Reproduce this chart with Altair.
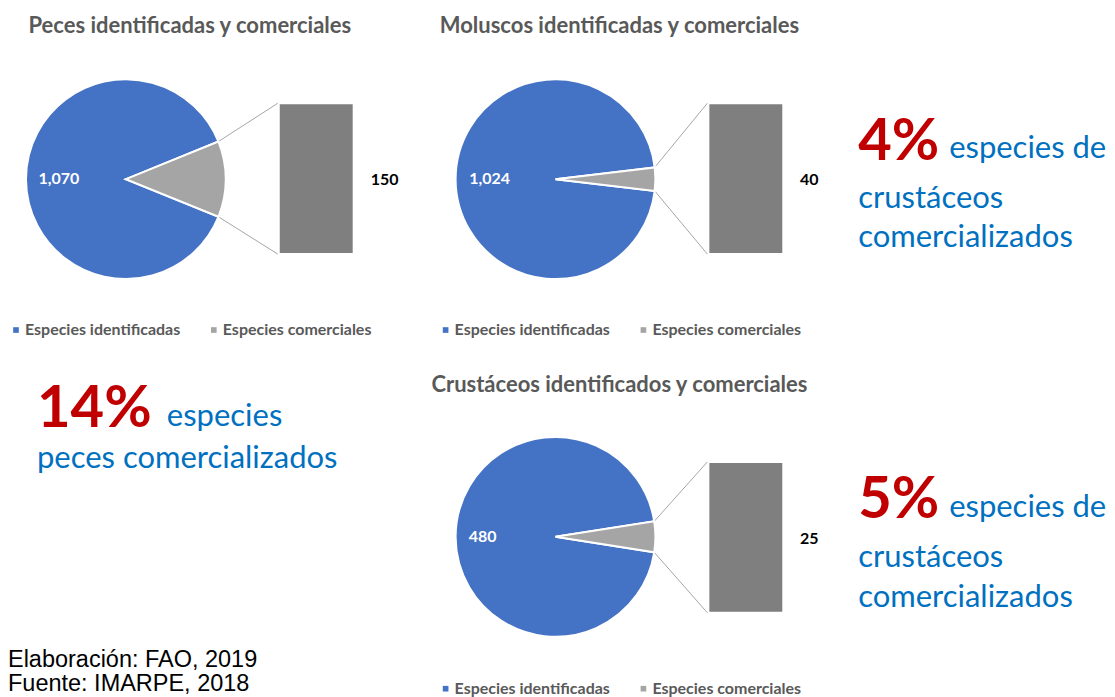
import math
import altair as alt
import pandas as pd

# ---------------- data ----------------
grupos = ["Peces", "Moluscos", "Crustáceos"]
titulos = [
    "Peces identificadas y comerciales",
    "Moluscos identificadas y comerciales",
    "Crustáceos identificados y comerciales",
]
identificadas = [1070, 1024, 480]
comerciales = [150, 40, 25]
categorias = ["Especies identificadas", "Especies comerciales"]
porcentajes = ["14%", "4%", "5%"]
frases = [
    ["especies", "peces comercializados"],
    ["especies de", "crustáceos", "comercializados"],
    ["especies de", "crustáceos", "comercializados"],
]
fuente = ["Elaboración: FAO, 2019", "Fuente: IMARPE, 2018"]

# ---------------- style ----------------
FONT = "Lato"
BLUE = "#4472C4"
GRAY = "#A5A5A5"
BARC = "#7F7F7F"
TXT = "#595959"
RED = "#C00000"
CALL = "#0070C0"

LAYOUT = [
    dict(W=412, H=352, cx=118, cy=171, r=100, lr=67, bx0=272, bx1=345, by0=96, by1=245,
         vx=377, vy=172, tx=182, ty=25, lgx=0, lgy=314),
    dict(W=420, H=352, cx=136, cy=171, r=100, lr=66, bx0=290, bx1=363, by0=96, by1=245,
         vx=390, vy=172, tx=200, ty=25, lgx=18, lgy=314),
    dict(W=420, H=345, cx=136, cy=177, r=100, lr=73, bx0=290, bx1=363, by0=103, by1=252,
         vx=390, vy=179, tx=200, ty=32, lgx=18, lgy=321),
]


def pie_panel(i):
    L = LAYOUT[i]
    ident, com = identificadas[i], comerciales[i]
    g = 2 * math.pi * com / (ident + com)
    start = math.pi / 2 - g / 2
    df = pd.DataFrame({"cat": categorias, "valor": [ident, com], "ord": [1, 0]})
    theta = alt.Theta("valor:Q", stack=True,
                      scale=alt.Scale(range=[start, start + 2 * math.pi]))
    base = alt.Chart(df)
    arc = base.mark_arc(radius=L["r"], stroke="white", strokeWidth=2).encode(
        theta=theta,
        order=alt.Order("ord:Q"),
        color=alt.Color(
            "cat:N",
            scale=alt.Scale(domain=categorias, range=[BLUE, GRAY]),
            legend=alt.Legend(
                orient="none", legendX=L["lgx"], legendY=L["lgy"], direction="horizontal",
                title=None, symbolType="square", symbolSize=32, symbolStrokeWidth=0,
                labelFont=FONT, labelFontWeight="bold", labelFontSize=16, labelColor=TXT,
                labelLimit=400, labelOffset=1, columnPadding=25, padding=0,
            ),
        ),
        x=alt.value(L["cx"]),
        y=alt.value(L["cy"]),
    )
    lab = base.transform_calculate(
        lab="datum.ord == 1 ? format(datum.valor, ',') : ''"
    ).mark_text(radius=L["lr"], font=FONT, fontWeight="bold", fontSize=16,
                color="white", baseline="middle").encode(
        theta=theta, order=alt.Order("ord:Q"), text="lab:N",
        x=alt.value(L["cx"]), y=alt.value(L["cy"]),
    )
    bdf = pd.DataFrame({"cat": [categorias[1]], "valor": [com]})
    bar = alt.Chart(bdf).transform_calculate(cero="0").mark_rect(color=BARC).encode(
        x=alt.value(L["bx0"]), x2=alt.value(L["bx1"]),
        y=alt.Y("valor:Q", axis=None,
                scale=alt.Scale(domain=[0, com], range=[L["by1"], L["by0"]])),
        y2="cero:Q",
    )
    blab = alt.Chart(bdf).mark_text(font=FONT, fontWeight="bold", fontSize=16,
                                    color="black", baseline="middle").encode(
        text=alt.Text("valor:Q", format=","),
        x=alt.value(L["vx"]), y=alt.value(L["vy"]),
    )
    a = g / 2
    px = L["cx"] + L["r"] * math.cos(a)
    conn = pd.DataFrame({
        "x": [px, px],
        "y": [L["cy"] - L["r"] * math.sin(a), L["cy"] + L["r"] * math.sin(a)],
        "x2": [L["bx0"] - 2, L["bx0"] - 2],
        "y2": [L["by0"] - 1, L["by1"] + 1],
    })
    rules = alt.Chart(conn).mark_rule(color="#A6A6A6", strokeWidth=1).encode(
        x=alt.X("x:Q", scale=None, axis=None), y=alt.Y("y:Q", scale=None, axis=None),
        x2="x2:Q", y2="y2:Q",
    )
    title = alt.Chart(pd.DataFrame({"t": [titulos[i]]})).mark_text(
        font=FONT, fontWeight="bold", fontSize=22, color=TXT, align="center",
        baseline="alphabetic").encode(
        text="t:N", x=alt.value(L["tx"]), y=alt.value(L["ty"]))
    return alt.layer(rules, arc, lab, bar, blab, title).resolve_scale(
        y="independent", x="independent").properties(width=L["W"], height=L["H"])


def text_panel(items, W, H):
    layers = []
    for it in items:
        layers.append(
            alt.Chart(pd.DataFrame({"t": [it["text"]]})).mark_text(
                align="left", baseline="alphabetic", font=it.get("font", FONT),
                fontSize=it["size"], fontWeight=it.get("weight", "normal"),
                color=it["color"]).encode(
                text="t:N", x=alt.value(it["x"]), y=alt.value(it["y"]))
        )
    return alt.layer(*layers).properties(width=W, height=H)


def callout(idx, ys):
    lines = frases[idx]
    return [dict(text=porcentajes[idx], x=19, y=ys[0], size=58, weight="bold", color=RED),
            dict(text=lines[0], x=110, y=ys[1], size=31, color=CALL),
            dict(text=lines[1], x=19, y=ys[2], size=31, color=CALL),
            dict(text=lines[2], x=19, y=ys[3], size=31, color=CALL)]


t1 = text_panel(callout(1, [152, 150, 200, 239]), 267, 352)
t3 = text_panel(callout(2, [158, 157, 207, 247]), 267, 345)
t2_items = [
    dict(text=porcentajes[0], x=29, y=67, size=58, weight="bold", color=RED),
    dict(text=frases[0][0], x=159, y=66, size=31, color=CALL),
    dict(text=frases[0][1], x=29, y=108, size=31, color=CALL),
    dict(text=fuente[0], x=0, y=307, size=23.5, color="black", font="Liberation Sans"),
    dict(text=fuente[1], x=0, y=331, size=23.5, color="black", font="Liberation Sans"),
]
t2 = text_panel(t2_items, 412, 345)

chart = alt.concat(
    pie_panel(0), pie_panel(1), t1, t2, pie_panel(2), t3, columns=3, spacing=0
).resolve_scale(color="independent", theta="independent").configure_view(
    strokeWidth=0
).properties(padding=0)

chart.save("out.html", embed_options={"renderer": "svg", "actions": False})
